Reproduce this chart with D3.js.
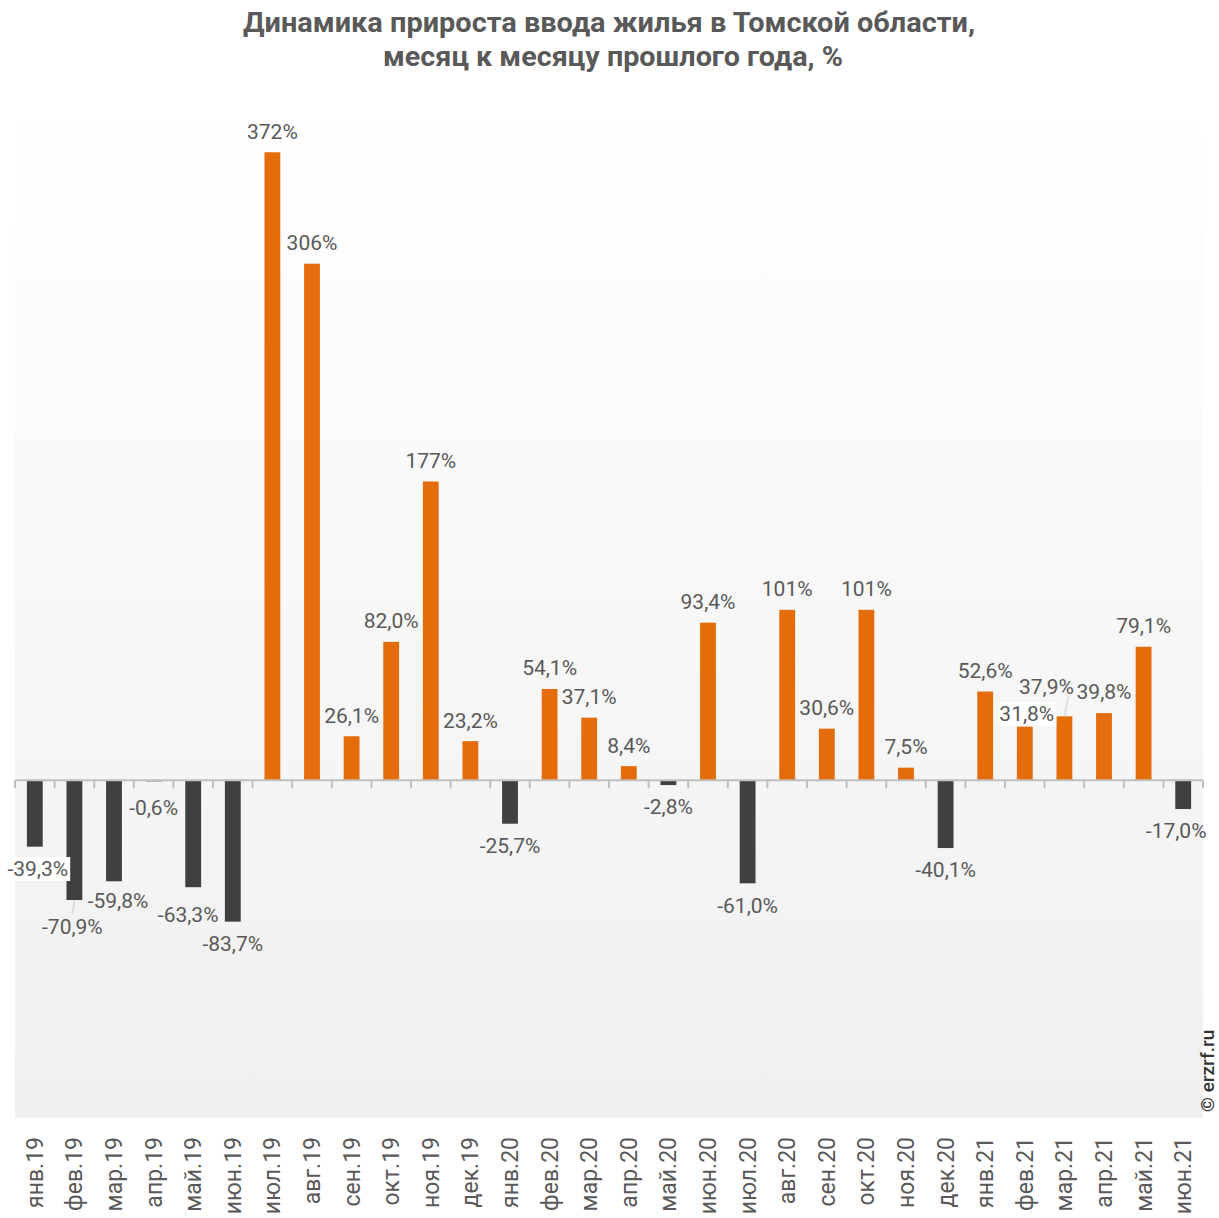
<!DOCTYPE html>
<html lang="ru">
<head>
<meta charset="UTF-8">
<title>Динамика прироста ввода жилья</title>
<script src="https://d3js.org/d3.v7.min.js"></script>
<style>
  body { margin: 0; background: #fff; }
  text { font-family: Roboto, "Liberation Sans", sans-serif; }
</style>
</head>
<body>
<script>
const months = ["янв.19","фев.19","мар.19","апр.19","май.19","июн.19","июл.19","авг.19","сен.19","окт.19","ноя.19","дек.19",
                "янв.20","фев.20","мар.20","апр.20","май.20","июн.20","июл.20","авг.20","сен.20","окт.20","ноя.20","дек.20",
                "янв.21","фев.21","мар.21","апр.21","май.21","июн.21"];
const growth = [-39.3,-70.9,-59.8,-0.6,-63.3,-83.7,372,306,26.1,82.0,177,23.2,
                -25.7,54.1,37.1,8.4,-2.8,93.4,-61.0,101,30.6,101,7.5,-40.1,
                52.6,31.8,37.9,39.8,79.1,-17.0];

// manual label nudges (like the hand-moved labels in the original)
const nudge = {
  0: {dx: 3, dy: 0, box: true},
  1: {dx: -2, dy: 5, line: true},
  2: {dx: 4, dy: -3},
  3: {dx: 0, dy: 4},
  4: {dx: -5, dy: 5},
  25: {dx: 2, dy: 8, box: true},
  26: {dx: -18, dy: -9, line: true},
  29: {dx: -7, dy: 0}
};

const W = 1219, H = 1218;
const svg = d3.select("body").append("svg").attr("width", W).attr("height", H);

const pL = 15, pR = 1203, pT = 105, pB = 1118;

const defs = svg.append("defs");
const grad = defs.append("linearGradient").attr("id", "bg").attr("x1", 0).attr("y1", 0).attr("x2", 0).attr("y2", 1);
grad.append("stop").attr("offset", "0%").attr("stop-color", "#ffffff");
grad.append("stop").attr("offset", "100%").attr("stop-color", "#f0f0f0");

svg.append("rect").attr("x", pL).attr("y", pT).attr("width", pR - pL).attr("height", pB - pT)
  .attr("fill", "url(#bg)");

const x = d3.scaleBand().domain(months).range([pL, pR]).paddingInner(0.6).paddingOuter(0.3);
const y = d3.scaleLinear().domain([-200, 400]).range([pB, pT]);

// title (condensed look of the original)
svg.append("text").attr("x", 609).attr("y", 32).attr("text-anchor", "middle")
  .attr("font-size", 28).attr("font-weight", "bold").attr("fill", "#595959")
  .attr("textLength", 732).attr("lengthAdjust", "spacingAndGlyphs")
  .text("Динамика прироста ввода жилья в Томской области,");
svg.append("text").attr("x", 613).attr("y", 66).attr("text-anchor", "middle")
  .attr("font-size", 28).attr("font-weight", "bold").attr("fill", "#595959")
  .attr("textLength", 460).attr("lengthAdjust", "spacingAndGlyphs")
  .text("месяц к месяцу прошлого года, %");

// bars
svg.append("g").selectAll("rect").data(growth).join("rect")
  .attr("x", (d, i) => x(months[i]))
  .attr("width", x.bandwidth())
  .attr("y", d => y(Math.max(0, d)))
  .attr("height", d => Math.max(1, Math.abs(y(d) - y(0))))
  .attr("fill", d => d >= 0 ? "#e46c0a" : "#404040");

// axis line + ticks at band boundaries
const step = x.step();
const axis = svg.append("g");
axis.append("line").attr("x1", pL).attr("x2", pR).attr("y1", y(0)).attr("y2", y(0))
  .attr("stroke", "#bfbfbf").attr("stroke-width", 2);
axis.selectAll("line.tick").data(d3.range(months.length + 1)).join("line")
  .attr("class", "tick")
  .attr("x1", i => pL + i * step).attr("x2", i => pL + i * step)
  .attr("y1", y(0)).attr("y2", y(0) + 8)
  .attr("stroke", "#bfbfbf").attr("stroke-width", 2);

// category labels
svg.append("g").selectAll("text").data(months).join("text")
  .attr("transform", d => `translate(${x(d) + x.bandwidth() / 2},1137) rotate(-90)`)
  .attr("text-anchor", "end").attr("dy", "0.35em")
  .attr("font-size", 23).attr("fill", "#595959")
  .text(d => d);

// value labels
const fmt = v => (Math.abs(v) >= 100 ? d3.format(".0f")(v) : d3.format(".1f")(v)).replace(".", ",").replace("−", "-") + "%";
const lab = svg.append("g");
growth.forEach((v, i) => {
  const n = nudge[i] || {dx: 0, dy: 0};
  const cx = x(months[i]) + x.bandwidth() / 2;
  const end = v >= 0 ? y(v) - 21 : y(v) + 22;
  const lx = cx + n.dx, ly = end + n.dy;
  if (n.line) {
    lab.append("line")
      .attr("x1", cx).attr("y1", y(v))
      .attr("x2", v >= 0 ? lx + 22 : lx).attr("y2", v >= 0 ? ly + 10 : ly - 13)
      .attr("stroke", "#d9d9d9").attr("stroke-width", 1.5);
  }
  const t = lab.append("text").attr("x", lx).attr("y", ly).attr("dy", "0.35em")
    .attr("text-anchor", "middle").attr("font-size", 21).attr("fill", "#595959")
    .text(fmt(v));
  if (n.box) {
    const b = t.node().getBBox();
    lab.insert("rect", () => t.node())
      .attr("x", b.x - 2).attr("y", b.y).attr("width", b.width + 4).attr("height", b.height)
      .attr("fill", "#ffffff");
  }
});

// watermark
svg.append("text").attr("transform", "translate(1214,1112) rotate(-90)")
  .attr("font-size", 19).attr("fill", "#333333").attr("font-weight", 500)
  .text("© erzrf.ru");
</script>
</body>
</html>
